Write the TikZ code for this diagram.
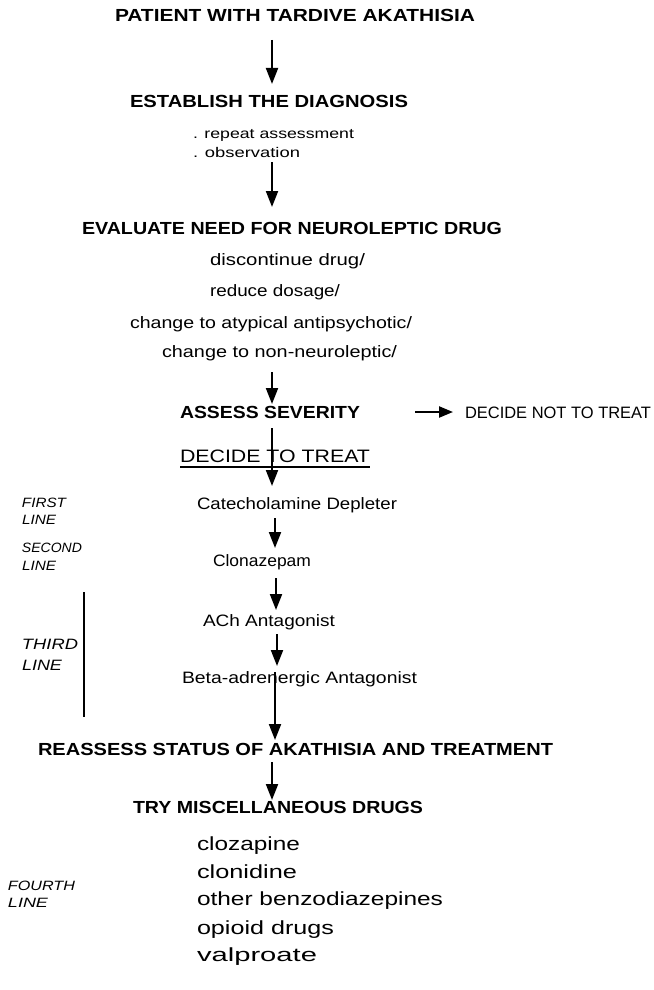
\documentclass[tikz,border=0pt]{standalone}
\usepackage{fontspec}
\setmainfont{Liberation Sans}
\usetikzlibrary{arrows.meta,calc}
\newcommand{\fw}[2]{\resizebox{#1}{\height}{#2}}
\begin{document}
\begin{tikzpicture}[x=1pt,y=-1pt,
  txt/.style={inner sep=0pt,outer sep=0pt,anchor=base west},
  hd/.style={txt,font=\bfseries\fontsize{17.5}{19}\selectfont},
  bd/.style={txt,font=\fontsize{16.5}{18}\selectfont},
  sm/.style={txt,font=\fontsize{14}{16}\selectfont},
  ls/.style={txt,font=\fontsize{19}{21}\selectfont},
  lb/.style={txt,font=\itshape\fontsize{13.5}{15}\selectfont},
  arr/.style={line width=2pt,-{Triangle[length=16pt,width=12pt]}},
  arrs/.style={line width=2.2pt,-{Triangle[length=14pt,width=11pt]}}]
\fill[white] (0,0) rectangle (653,990);
\useasboundingbox (0,0) rectangle (653,990);
\coordinate (spine) at (272,0);
% headings and texts
\node[hd] (patient) at (115,22) {\fw{360pt}{PATIENT WITH TARDIVE AKATHISIA}};
\node[hd] (establish) at (130,107) {\fw{278pt}{ESTABLISH THE DIAGNOSIS}};
\node[sm] (repeat) at (193,138) {\fw{161pt}{. repeat assessment}};
\node[sm] (observation) at (193,157) {\fw{107pt}{. observation}};
\node[hd] (evaluate) at (82,234) {\fw{420pt}{EVALUATE NEED FOR NEUROLEPTIC DRUG}};
\node[bd] (discont) at (210,265) {\fw{155pt}{discontinue drug/}};
\node[bd] (reduce) at (210,296) {\fw{130pt}{reduce dosage/}};
\node[bd] (atypical) at (130,328) {\fw{282pt}{change to atypical antipsychotic/}};
\node[bd] (nonneuro) at (162,357) {\fw{235pt}{change to non-neuroleptic/}};
\node[hd] (assess) at (180,418) {\fw{180pt}{ASSESS SEVERITY}};
\node[bd] (notreat) at (465,418) {\fw{186pt}{DECIDE NOT TO TREAT}};
\node[txt,font=\fontsize{18}{20}\selectfont] (treat) at (180,462) {\fw{190pt}{DECIDE TO TREAT}};
\node[bd] (catechol) at (197,509) {\fw{200pt}{Catecholamine Depleter}};
\node[bd] (clonaz) at (213,566) {\fw{98pt}{Clonazepam}};
\node[bd] (ach) at (203,626) {\fw{132pt}{ACh Antagonist}};
\node[bd] (beta) at (182,683) {\fw{235pt}{Beta-adrenergic Antagonist}};
\node[hd] (reassess) at (38,755) {\fw{515pt}{REASSESS STATUS OF AKATHISIA AND TREATMENT}};
\node[hd] (trymisc) at (133,813) {\fw{290pt}{TRY MISCELLANEOUS DRUGS}};
\node[ls] (cloz) at (197,850) {\fw{103pt}{clozapine}};
\node[ls] (clon) at (197,878) {\fw{100pt}{clonidine}};
\node[ls] (benzo) at (197,905) {\fw{246pt}{other benzodiazepines}};
\node[ls] (opioid) at (197,934) {\fw{137pt}{opioid drugs}};
\node[ls] (valpro) at (197,961) {\fw{120pt}{valproate}};
% side labels
\node[lb] (first) at (22,507) {\fw{44pt}{FIRST}};
\node[lb] (firstl) at (22,524) {\fw{34pt}{LINE}};
\node[lb] (second) at (22,552) {\fw{60pt}{SECOND}};
\node[lb] (secondl) at (22,570) {\fw{34pt}{LINE}};
\node[lb,font=\itshape\fontsize{15}{17}\selectfont] (third) at (22,649) {\fw{56pt}{THIRD}};
\node[lb,font=\itshape\fontsize{15}{17}\selectfont] (thirdl) at (22,670) {\fw{40pt}{LINE}};
\node[lb] (fourth) at (8,890) {\fw{67pt}{FOURTH}};
\node[lb] (fourthl) at (8,907) {\fw{40pt}{LINE}};
\draw[line width=1.6pt] (84,592) -- (84,717);
% underline
\draw[line width=1.1pt] ($(treat.base west)+(0,5)$) -- ($(treat.base east)+(0,5)$);
% connectors
\draw[arr] ($(patient.base -| spine)+(0,18)$) -- ($(establish.base -| spine)+(0,-23)$);
\draw[arr] ($(observation.base -| spine)+(0,5)$) -- ($(evaluate.base -| spine)+(0,-27)$);
\draw[arr] ($(nonneuro.base -| spine)+(0,15)$) -- ($(assess.base -| spine)+(0,-14)$);
\draw[arrs] ($(assess.base east)+(55,-6)$) -- ($(notreat.base west)+(-12,-6)$);
\draw[arr] ($(assess.base -| spine)+(0,10)$) -- ($(catechol.base -| spine)+(0,-23)$);
\draw[arr] ($(catechol.base -| spine)+(3,9)$) -- ($(clonaz.base -| spine)+(3,-18)$);
\draw[arr] ($(clonaz.base -| spine)+(4,12)$) -- ($(ach.base -| spine)+(4,-16)$);
\draw[arr] ($(ach.base -| spine)+(5,8)$) -- ($(beta.base -| spine)+(5,-17)$);
\draw[arr] ($(beta.base -| spine)+(3,-11)$) -- ($(reassess.base -| spine)+(3,-15)$);
\draw[arr] ($(reassess.base -| spine)+(0,7)$) -- ($(trymisc.base -| spine)+(0,-13)$);
\end{tikzpicture}
\end{document}
